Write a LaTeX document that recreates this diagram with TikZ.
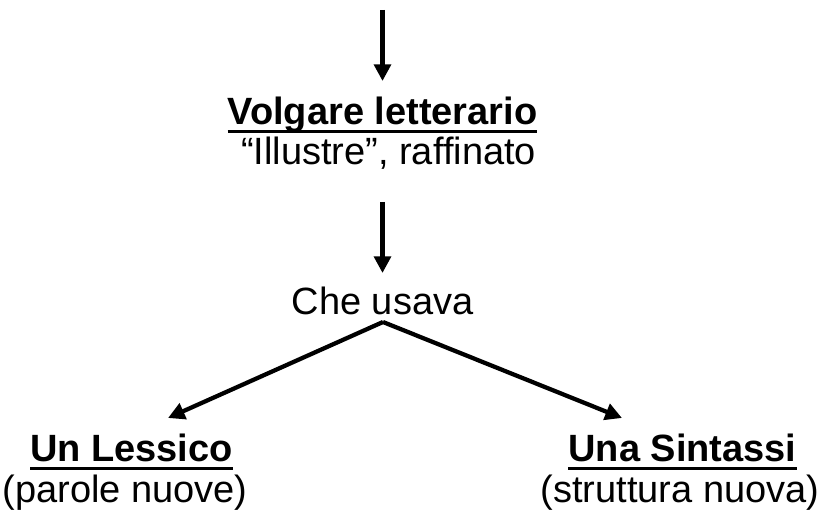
\documentclass[tikz,border=0pt]{standalone}
\usepackage{fontspec}
\setmainfont{Liberation Sans}
\usetikzlibrary{arrows.meta,calc}
\newcommand\ulbox[1]{\setbox0\hbox{#1}\rlap{\rule[-6pt]{\wd0}{2.3pt}}\box0}
\begin{document}
\begin{tikzpicture}[x=0.75pt,y=-0.75pt,
  lbl/.style={inner sep=0pt,outer sep=0pt,anchor=base,font=\fontsize{28.5}{34}\selectfont},
  ttl/.style={lbl,font=\fontsize{28.5}{34}\selectfont\bfseries},
  arr/.style={line width=3.2pt,-{Triangle[length=12.5pt,width=12.5pt]}}]
\useasboundingbox (0,0) rectangle (822,516);
\coordinate (top) at (382.5,10);
\node[ttl] (vol) at (382.5,125) {\ulbox{Volgare letterario}};
\node[lbl] (ill) at (388.5,165) {“Illustre”, raffinato};
\node[lbl] (che) at (382.5,315) {Che usava};
\node[ttl] (lex) at (131.5,462) {\ulbox{Un Lessico}};
\node[lbl] (par) at (125,503) {(parole nuove)};
\node[ttl] (sin) at (682.5,462) {\ulbox{Una Sintassi}};
\node[lbl] (str) at (680,503) {(struttura nuova)};
\draw[arr] (top) -- ($(vol.base)+(0,-44)$);
\draw[arr] ($(vol.base)+(0,77)$) -- ($(che.base)+(0,-42)$);
\coordinate (apex) at ($(che.base)+(0.5,7)$);
\draw[arr] (apex) -- ($(lex.base)+(36.5,-44)$);
\draw[arr] (apex) -- ($(sin.base)+(-60.5,-44)$);
\end{tikzpicture}
\end{document}
